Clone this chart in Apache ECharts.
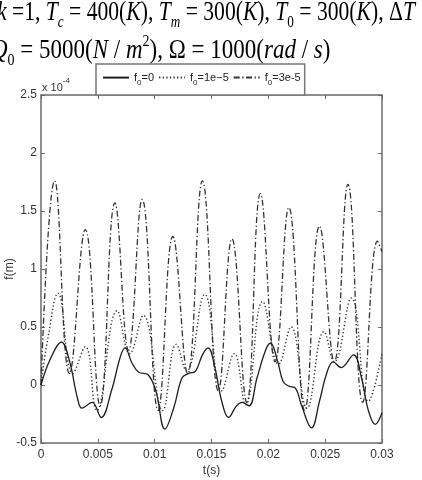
<!DOCTYPE html>
<html>
<head>
<meta charset="utf-8">
<script src="https://cdn.jsdelivr.net/npm/echarts@6/dist/echarts.min.js"></script>
<style>
	html, body { margin: 0; padding: 0; background: #fff; }
	#main { width: 422px; height: 480px; }
</style>
</head>
<body>
<div id="main"></div>
<script>
// 位移曲线 f(m), 单位 x 10^-4
var seriesNames = ['f0=0', 'f0=1e−5', 'f0=3e-5'];

// f0 = 0 (实线)
var solidT = [0, 0.0008, 0.0018, 0.0025, 0.0032, 0.0036, 0.0045, 0.0053, 0.0062, 0.0070, 0.0074, 0.0080, 0.0086, 0.0094, 0.0101,
	0.0109, 0.0117, 0.0124, 0.0130, 0.0136, 0.0142, 0.0147, 0.0153, 0.0159, 0.0165, 0.0172, 0.0177, 0.0183, 0.0190, 0.0198,
	0.0202, 0.0208, 0.0213, 0.0218, 0.0224, 0.0229, 0.0238, 0.0245, 0.0251, 0.0257, 0.0264, 0.0275, 0.0282, 0.0288, 0.0294, 0.0300];
var solidV = [0, 0.22, 0.37, 0.21, -0.11, -0.2, -0.15, -0.28, -0.05, 0.25, 0.32, 0.19, 0.11, 0.09, -0.05,
	-0.38, -0.19, 0.06, 0.1, 0.12, 0.26, 0.32, 0.15, -0.14, -0.28, -0.18, -0.15, -0.18, 0.06, 0.31,
	0.36, 0.21, 0.03, -0.01, -0.03, -0.17, -0.37, -0.14, 0.09, 0.2, 0.15, 0.26, 0.06, -0.22, -0.34, -0.24];

// f0 = 1e-5 (点线)
var dotT = [0, 0.0006, 0.0015, 0.0028, 0.0039, 0.0049, 0.0067, 0.0078, 0.0090, 0.0107, 0.0119, 0.0128, 0.0144, 0.0159, 0.0170,
	0.0180, 0.0195, 0.0209, 0.0220, 0.0234, 0.0249, 0.0258, 0.0273, 0.0288, 0.0300];
var dotV = [0, 0.4, 0.79, 0.1, 0.33, -0.22, 0.64, 0.27, 0.6, -0.22, 0.35, 0.12, 0.78, -0.05, 0.27,
	-0.17, 0.72, 0.18, 0.5, -0.2, 0.46, 0.2, 0.75, -0.14, 0.27];

// f0 = 3e-5 (点划线)
var dashT = [0, 0.0012, 0.0025, 0.0039, 0.0052, 0.0065, 0.0077, 0.0089, 0.0103, 0.0116, 0.0129, 0.0142, 0.0156, 0.0168,
	0.0181, 0.0193, 0.0206, 0.0218, 0.0232, 0.0245, 0.0258, 0.0270, 0.0283, 0.0296, 0.0300];
var dashV = [0, 1.76, 0.1, 1.34, -0.18, 1.57, 0.3, 1.6, -0.22, 1.28, 0.1, 1.76, -0.05, 1.26,
	-0.15, 1.65, 0.2, 1.53, -0.22, 1.37, 0.2, 1.73, -0.15, 1.24, 1.15];

var axisFont = "'Liberation Sans Narrow', 'Liberation Sans', Arial, sans-serif";

function pairs(t, v) {
	return t.map(function (x, i) { return [x, v[i]]; });
}

var chart = echarts.init(document.getElementById('main'));

var axisLine = { show: true, onZero: false, lineStyle: { color: '#6a6a6a', width: 1.5 } };
var axisTick = { show: true, inside: true, length: 4, lineStyle: { color: '#6a6a6a', width: 1 } };

var serif = 'Liberation Serif';

var option = {
	backgroundColor: '#fff',
	animation: false,
	grid: {
		left: 41,
		right: 40,
		top: 95,
		bottom: 37,
		outerBoundsMode: 'none'
	},
	//图例
	legend: {
		left: 96,
		top: 64,
		orient: 'horizontal',
		itemWidth: 26,
		itemHeight: 14,
		itemGap: 4,
		padding: [8, 4, 8, 6],
		borderColor: '#777',
		borderWidth: 1.5,
		borderRadius: 0,
		backgroundColor: '#fff',
		data: seriesNames,
		itemStyle: { color: 'rgba(0,0,0,0)', borderWidth: 0, opacity: 0 },
		formatter: function (name) {
			return 'f{s|0}' + name.slice(2);
		},
		textStyle: {
			fontFamily: axisFont,
			fontSize: 11,
			color: '#222',
			rich: {
				s: { fontSize: 8, verticalAlign: 'bottom', lineHeight: 8, padding: [0, 0, -4, 0] }
			}
		}
	},
	graphic: [
		{
			type: 'text',
			x: -3,
			y: 13,
			scaleX: 0.94,
			scaleY: 1.2,
			style: {
				text: '{i|k}{n| =1, }{i|T}{sub|c}{n| = 400(}{i|K}{n|), }{i|T}{sub|m}{n| = 300(}{i|K}{n|), }{i|T}{subn|0}{n| = 300(}{i|K}{n|), Δ}{i|T}',
				verticalAlign: 'middle',
				align: 'left',
				fill: '#000',
				rich: {
					n: { fontFamily: serif, fontSize: 23, lineHeight: 30, verticalAlign: 'middle', fill: '#000' },
					i: { fontFamily: serif, fontStyle: 'italic', fontSize: 23, lineHeight: 30, verticalAlign: 'middle', fill: '#000' },
					sub: { fontFamily: serif, fontStyle: 'italic', fontSize: 14, lineHeight: 12, verticalAlign: 'bottom', fill: '#000' },
					subn: { fontFamily: serif, fontSize: 14, lineHeight: 12, verticalAlign: 'bottom', fill: '#000' }
				}
			}
		},
		{
			type: 'text',
			x: -9,
			y: 51,
			scaleY: 1.2,
			style: {
				text: '{i|Q}{sub|0}{n| = 5000(}{i|N}{n| / }{i|m}{sup|2}{n|), Ω = 1000(}{i|rad}{n| / }{i|s}{n|)}',
				verticalAlign: 'middle',
				align: 'left',
				fill: '#000',
				rich: {
					n: { fontFamily: serif, fontSize: 23, lineHeight: 30, verticalAlign: 'middle', fill: '#000' },
					i: { fontFamily: serif, fontStyle: 'italic', fontSize: 23, lineHeight: 30, verticalAlign: 'middle', fill: '#000' },
					sub: { fontFamily: serif, fontSize: 14, lineHeight: 12, verticalAlign: 'bottom', fill: '#000' },
					sup: { fontFamily: serif, fontSize: 14, lineHeight: 12, verticalAlign: 'top', fill: '#000' }
				}
			}
		},
		{
			type: 'text',
			x: 42,
			y: 85,
			style: {
				text: '{a|x 10}{s|-4}',
				verticalAlign: 'middle',
				align: 'left',
				fill: '#333',
				rich: {
					a: { fontFamily: axisFont, fontSize: 11, lineHeight: 16, verticalAlign: 'bottom', fill: '#333' },
					s: { fontFamily: axisFont, fontSize: 8, lineHeight: 8, verticalAlign: 'top', fill: '#333' }
				}
			}
		}
	],
	//x轴
	xAxis: [
		{
			type: 'value',
			min: 0,
			max: 0.03,
			interval: 0.005,
			position: 'bottom',
			name: 't(s)',
			nameLocation: 'middle',
			nameGap: 22,
			nameMoveOverlap: false,
			nameTextStyle: { fontFamily: axisFont, fontSize: 12, color: '#333' },
			axisLine: axisLine,
			axisTick: axisTick,
			splitLine: { show: false },
			axisLabel: {
				fontFamily: axisFont,
				fontSize: 12,
				color: '#333',
				margin: 6,
				formatter: function (v) { return String(+v.toFixed(3)); }
			}
		},
		{
			type: 'value',
			min: 0,
			max: 0.03,
			interval: 0.005,
			position: 'top',
			axisLine: axisLine,
			axisTick: axisTick,
			splitLine: { show: false },
			axisLabel: { show: false }
		}
	],
	//y轴
	yAxis: [
		{
			type: 'value',
			min: -0.5,
			max: 2.5,
			interval: 0.5,
			position: 'left',
			name: 'f(m)',
			nameLocation: 'middle',
			nameGap: 25,
			nameMoveOverlap: false,
			nameTextStyle: { fontFamily: axisFont, fontSize: 12, color: '#333' },
			axisLine: axisLine,
			axisTick: axisTick,
			splitLine: { show: false },
			axisLabel: {
				fontFamily: axisFont,
				fontSize: 12,
				color: '#333',
				margin: 4,
				formatter: function (v) { return String(+v.toFixed(1)); }
			}
		},
		{
			type: 'value',
			min: -0.5,
			max: 2.5,
			interval: 0.5,
			position: 'right',
			axisLine: axisLine,
			axisTick: axisTick,
			splitLine: { show: false },
			axisLabel: { show: false }
		}
	],
	//系列列表
	series: [
		{
			name: seriesNames[0],
			type: 'line',
			data: pairs(solidT, solidV),
			symbol: 'none',
			smooth: 0.4,
			z: 4,
			itemStyle: { color: '#1e1e1e' },
			lineStyle: { color: '#1e1e1e', width: 1.3, type: 'solid' }
		},
		{
			name: seriesNames[1],
			type: 'line',
			data: pairs(dotT, dotV),
			symbol: 'none',
			smooth: 0.45,
			z: 3,
			itemStyle: { color: '#333' },
			lineStyle: { color: '#333', width: 1.4, type: [1.3, 2.3] }
		},
		{
			name: seriesNames[2],
			type: 'line',
			data: pairs(dashT, dashV),
			symbol: 'none',
			smooth: 0.45,
			z: 2,
			itemStyle: { color: '#333' },
			lineStyle: { color: '#333', width: 1.3, type: [6, 2.5, 1.3, 2.5] }
		}
	]
};

chart.setOption(option);
</script>
</body>
</html>
